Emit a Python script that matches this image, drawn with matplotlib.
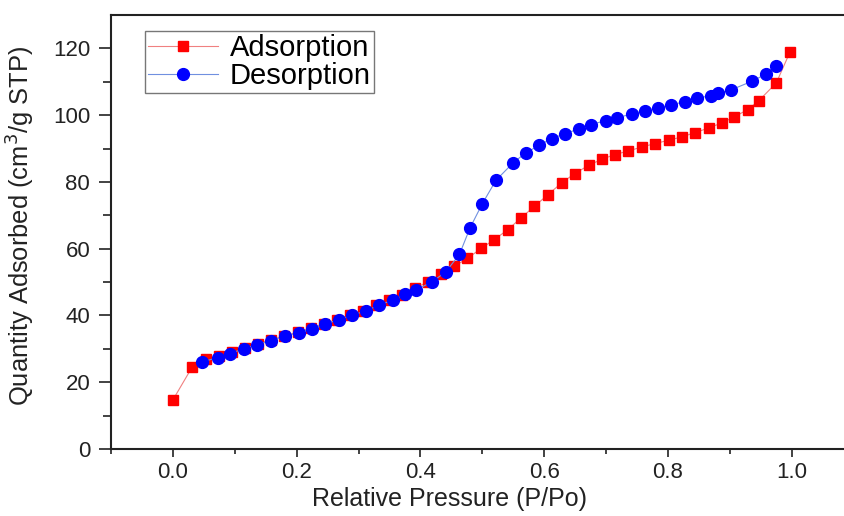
import matplotlib
matplotlib.use("Agg")
import matplotlib.pyplot as plt

plt.rcParams['font.family'] = ['Liberation Sans', 'DejaVu Sans']

# adsorption branch (red squares)
ads_p = [0.0, 0.031, 0.054, 0.075, 0.096, 0.117, 0.138, 0.159, 0.180, 0.202,
         0.223, 0.244, 0.265, 0.286, 0.307, 0.328, 0.349, 0.370, 0.391, 0.412,
         0.433, 0.455, 0.476, 0.498, 0.519, 0.541, 0.563, 0.584, 0.606, 0.628,
         0.649, 0.672, 0.693, 0.714, 0.736, 0.758, 0.779, 0.801, 0.822, 0.844,
         0.866, 0.887, 0.906, 0.929, 0.947, 0.975, 0.997]
ads_q = [14.7, 24.5, 26.9, 27.9, 29.0, 30.4, 31.6, 32.7, 33.9, 35.0,
         36.2, 37.5, 38.8, 40.1, 41.4, 43.0, 44.5, 46.2, 48.1, 50.1,
         52.3, 54.8, 57.1, 60.1, 62.7, 65.7, 69.3, 72.7, 76.2, 79.7,
         82.5, 85.0, 86.8, 88.2, 89.3, 90.5, 91.5, 92.5, 93.5, 94.8,
         96.2, 97.7, 99.4, 101.7, 104.4, 109.7, 118.9]

# desorption branch (blue circles)
des_p = [0.047, 0.073, 0.093, 0.115, 0.136, 0.158, 0.181, 0.204, 0.225, 0.246,
         0.268, 0.290, 0.312, 0.333, 0.355, 0.375, 0.392, 0.419, 0.441, 0.463,
         0.480, 0.500, 0.522, 0.550, 0.570, 0.592, 0.612, 0.634, 0.656, 0.676,
         0.699, 0.717, 0.742, 0.762, 0.784, 0.805, 0.828, 0.847, 0.870, 0.881,
         0.902, 0.936, 0.959, 0.974]
des_q = [26.1, 27.4, 28.6, 30.1, 31.3, 32.4, 33.8, 34.9, 36.1, 37.4,
         38.8, 40.1, 41.4, 43.1, 44.6, 46.3, 47.6, 50.1, 53.1, 58.3,
         66.2, 73.5, 80.5, 85.8, 88.7, 91.0, 93.0, 94.5, 95.9, 97.2,
         98.4, 99.2, 100.4, 101.4, 102.2, 103.1, 104.1, 105.1, 105.9, 106.6,
         107.6, 110.2, 112.4, 114.7]

fig = plt.figure(figsize=(8.44, 5.16), dpi=100)
ax = fig.add_axes([0.1315, 0.1298, 0.88, 0.841])

ax.plot(ads_p, ads_q, color='#f08080', lw=0.8, marker='s', ms=7,
        mfc='#ff0000', mec='#ff0000', label='Adsorption', zorder=2)
ax.plot(des_p, des_q, color='#7090e0', lw=0.8, marker='o', ms=8.5,
        mfc='#0000ff', mec='#0000ff', label='Desorption', zorder=3)

ax.set_xlim(-0.1, 1.1)
ax.set_ylim(0, 130)
ax.set_xticks([0.0, 0.2, 0.4, 0.6, 0.8, 1.0])
ax.set_xticks([-0.1, 0.1, 0.3, 0.5, 0.7, 0.9], minor=True)
ax.set_yticks([0, 20, 40, 60, 80, 100, 120])
ax.set_yticks([10, 30, 50, 70, 90, 110], minor=True)
ax.tick_params(which='both', direction='out', width=1.2, colors='#222222')
ax.tick_params(which='major', labelsize=16)
ax.tick_params(axis='x', which='major', length=5.5, pad=4)
ax.tick_params(axis='x', which='minor', length=3.5)
ax.tick_params(axis='y', which='major', length=9, pad=6)
ax.tick_params(axis='y', which='minor', length=5.5)
for s in ax.spines.values():
    s.set_linewidth(1.5)
    s.set_color('#222222')
ax.spines['right'].set_visible(False)

ax.set_xlabel('Relative Pressure (P/Po)', fontsize=18, color='#222222')
ax.set_ylabel('Quantity Adsorbed (cm$^3$/g STP)', fontsize=18.4, color='#222222')
ax.xaxis.set_label_coords(0.456, -0.087)
ax.yaxis.set_label_coords(-0.101, 0.514)

leg = ax.legend(loc='upper left', bbox_to_anchor=(0.046, 0.963), fontsize=21,
                fancybox=False, framealpha=1, edgecolor='#777777',
                handlelength=2.4, borderpad=0.1, labelspacing=0.0,
                handletextpad=0.4, borderaxespad=0)
leg.get_frame().set_linewidth(1.0)

fig.savefig('out.png', dpi=100)
